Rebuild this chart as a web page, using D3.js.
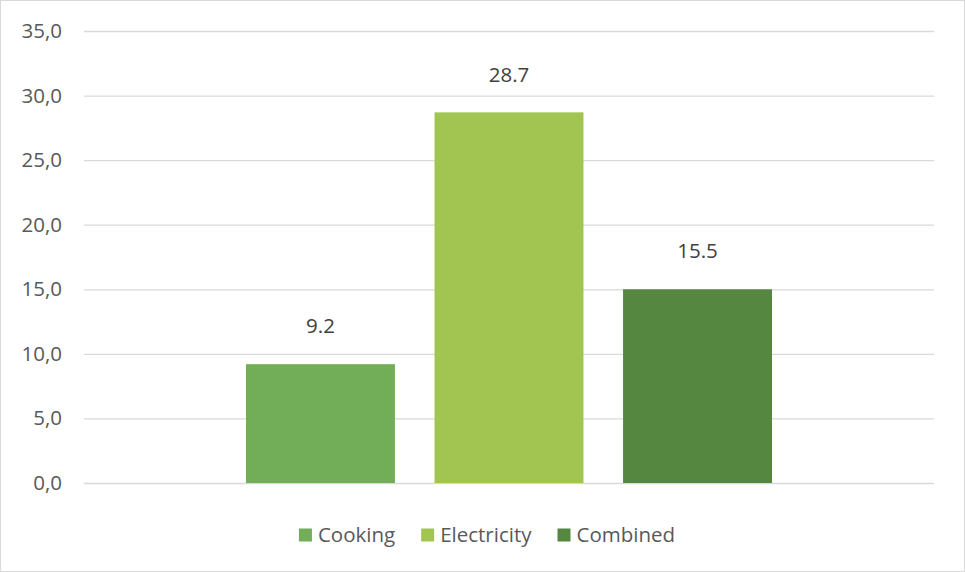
<!DOCTYPE html>
<html>
<head>
<meta charset="utf-8">
<script src="https://cdn.jsdelivr.net/npm/d3@7"></script>
<style>
    body { margin: 0; background: #fff; }
    text { font-family: "Open Sans", "Noto Sans", sans-serif; fill: #595959; }
</style>
</head>
<body>
<div id="chart"></div>
<script>
// chart data
const categories = [''];
const seriesNames = ['Cooking', 'Electricity', 'Combined'];
const seriesValues = [9.2, 28.7, 15.0];
const seriesLabels = ['9.2', '28.7', '15.5'];
const seriesColors = ['#72ad57', '#a2c450', '#558741'];
const yTicks = [0, 5, 10, 15, 20, 25, 30, 35];

const width = 965, height = 572;
// top, bottom, left, right
const margin = [31, 89, 84, 31];
const chartWidth = width - margin[2] - margin[3],
    chartHeight = height - margin[0] - margin[1];
const fontSize = 20.5;

const svg = d3.select('#chart').append('svg')
    .attr('width', width)
    .attr('height', height);

// outer border
svg.append('rect')
    .attr('x', 0.5).attr('y', 0.5)
    .attr('width', width - 1).attr('height', height - 1)
    .attr('fill', 'none').attr('stroke', '#d9d9d9');

const chart = svg.append('g')
    .attr('transform', `translate(${margin[2]},${margin[0]})`);

const scaleY = d3.scaleLinear([0, 35], [chartHeight, 0]);
const scaleX = d3.scaleBand(categories, [0, chartWidth]).paddingOuter(0.308);
const scaleSeries = d3.scaleBand(seriesNames, [0, scaleX.bandwidth()]).paddingInner(0.21);

// gridlines and y labels
const axisY = d3.axisLeft(scaleY)
    .tickValues(yTicks)
    .tickSize(-chartWidth)
    .tickPadding(22)
    .tickFormat(d => d3.format('.1f')(d).replace('.', ','));
chart.append('g').call(axisY)
    .call(g => g.select('.domain').remove())
    .call(g => g.selectAll('line').attr('stroke', '#d9d9d9').attr('stroke-width', 1.3))
    .call(g => g.selectAll('text').attr('font-size', fontSize).style('fill', '#595959'));

// bars
const bars = seriesNames.map((name, i) => ({name, value: seriesValues[i], label: seriesLabels[i], color: seriesColors[i]}));
const group = chart.append('g').attr('transform', `translate(${scaleX(categories[0])},0)`);
group.selectAll('rect')
    .data(bars)
    .join('rect')
    .attr('x', d => scaleSeries(d.name))
    .attr('y', d => scaleY(d.value))
    .attr('width', scaleSeries.bandwidth())
    .attr('height', d => scaleY(0) - scaleY(d.value))
    .attr('fill', d => d.color);

// data labels
group.selectAll('text')
    .data(bars)
    .join('text')
    .attr('x', d => scaleSeries(d.name) + scaleSeries.bandwidth() / 2)
    .attr('y', d => scaleY(d.value) - 38)
    .attr('dy', '0.35em')
    .attr('text-anchor', 'middle')
    .attr('font-size', fontSize)
    .style('fill', '#404040')
    .text(d => d.label);

// legend, centered below the plot
const legendY = 535, swatch = 13, swatchGap = 6, itemGap = 26;
const legend = svg.append('g');
const items = legend.selectAll('g')
    .data(bars)
    .join('g');
items.append('rect')
    .attr('width', swatch).attr('height', swatch)
    .attr('y', legendY - swatch / 2)
    .attr('fill', d => d.color);
items.append('text')
    .attr('x', swatch + swatchGap)
    .attr('y', legendY)
    .attr('dy', '0.35em')
    .attr('font-size', fontSize)
    .text(d => d.name);
let offset = 0;
items.each(function () {
    const w = swatch + swatchGap + d3.select(this).select('text').node().getComputedTextLength();
    d3.select(this).attr('transform', `translate(${offset},0)`);
    offset += w + itemGap;
});
const legendWidth = offset - itemGap;
legend.attr('transform', `translate(${487 - legendWidth / 2},0)`);
</script>
</body>
</html>
